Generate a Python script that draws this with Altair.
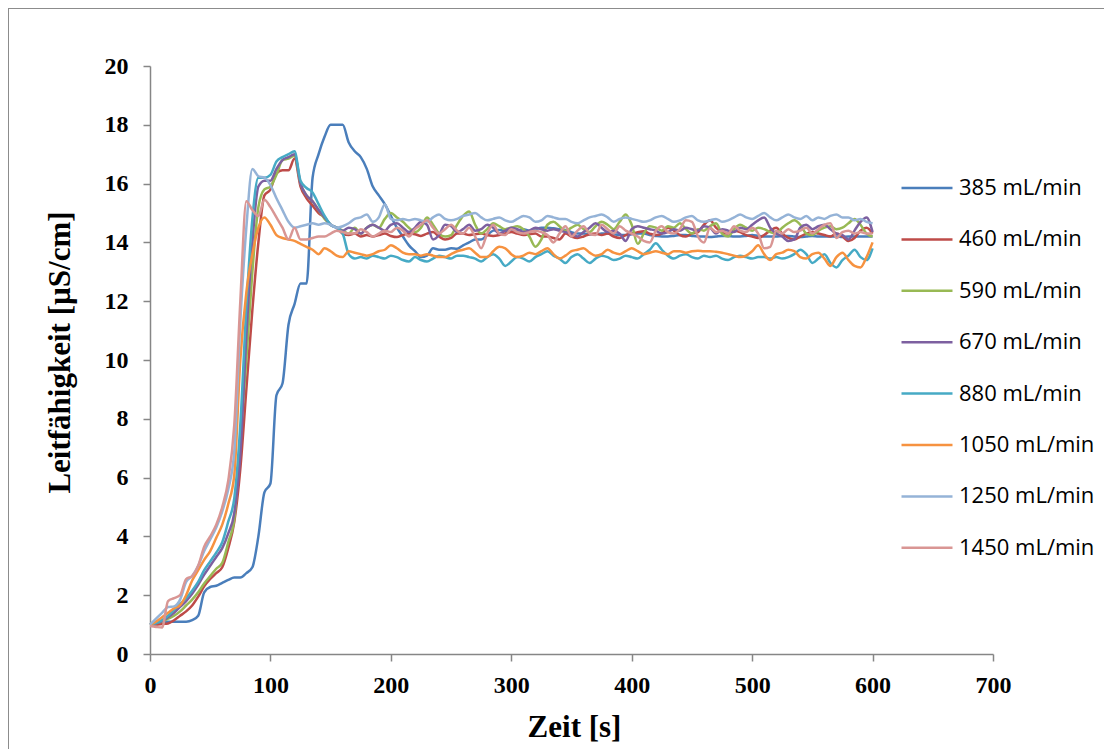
import altair as alt
import pandas as pd

# ---------------- data ----------------
series_names = ["385 mL/min", "460 mL/min", "590 mL/min", "670 mL/min",
                "880 mL/min", "1050 mL/min", "1250 mL/min", "1450 mL/min"]
series_colors = ["#4A7EBB", "#BE4B48", "#98B954", "#7D60A0",
                 "#46AAC5", "#F69240", "#95B3D7", "#D99694"]

x_ticks = [0, 100, 200, 300, 400, 500, 600, 700]
y_ticks = [0, 2, 4, 6, 8, 10, 12, 14, 16, 18, 20]

# time step 5 s, 0 ... 600 s
v385 = [1.0, 1.05, 1.08, 1.1, 1.1, 1.1, 1.1, 1.15, 1.3, 2.1,
        2.28, 2.32, 2.42, 2.52, 2.6, 2.6, 2.75, 2.95, 4.0, 5.5,
        5.8, 8.8, 9.2, 11.2, 11.9, 12.6, 12.6, 16.2, 17.0, 17.6,
        18.0, 18.0, 18.0, 17.4, 17.1, 16.9, 16.5, 15.9, 15.6, 15.3,
        14.9, 14.5, 14.2, 13.9, 13.7, 13.5, 13.55, 13.8, 13.75, 13.75,
        13.8, 13.78, 13.9, 14.0, 14.1, 14.1, 14.25, 14.4, 14.42, 14.4,
        14.38, 14.4, 14.45, 14.4, 14.45, 14.5, 14.5, 14.48, 14.45, 14.42,
        14.35, 14.3, 14.3, 14.28, 14.28, 14.3, 14.3, 14.28, 14.25, 14.25,
        14.28, 14.3, 14.3, 14.25, 14.22, 14.2, 14.2, 14.22, 14.25, 14.25,
        14.22, 14.2, 14.2, 14.18, 14.2, 14.22, 14.22, 14.2, 14.2, 14.22,
        14.25, 14.22, 14.2, 14.2, 14.2, 14.22, 14.22, 14.2, 14.18, 14.2,
        14.22, 14.2, 14.2, 14.2, 14.2, 14.18, 14.2, 14.2, 14.2, 14.2,
        14.2]

v460 = [1.0, 1.0, 1.02, 1.04, 1.15, 1.3, 1.45, 1.65, 1.95, 2.3,
        2.55, 2.75, 2.95, 3.6, 4.5, 6.3, 9.0, 11.7, 14.0, 15.6,
        15.8, 16.35, 16.45, 16.45, 16.85, 15.9, 15.5, 15.25, 15.0, 14.85,
        14.6, 14.5, 14.3, 14.25, 14.3, 14.2, 14.25, 14.2, 14.25, 14.3,
        14.22, 14.18, 14.25, 14.3, 14.28, 14.22, 14.3, 14.35, 14.2, 14.1,
        14.15, 14.3, 14.3, 14.25, 14.28, 14.3, 14.25, 14.22, 14.25, 14.3,
        14.35, 14.3, 14.25, 14.28, 14.3, 14.2, 14.2, 14.15, 14.1, 14.3,
        14.2, 14.15, 14.2, 14.28, 14.3, 14.25, 14.3, 14.2, 14.15, 14.25,
        14.3, 14.35, 14.38, 14.3, 14.25, 14.3, 14.5, 14.4, 14.25, 14.2,
        14.3, 14.35, 14.6, 14.75, 14.5, 14.35, 14.3, 14.4, 14.35, 14.25,
        14.2, 14.15, 14.25, 14.4, 14.5, 14.3, 14.15, 14.1, 14.2, 14.3,
        14.35, 14.3, 14.25, 14.2, 14.3, 14.2, 14.05, 14.15, 14.4, 14.5,
        14.3]

v590 = [1.0, 1.05, 1.1, 1.2, 1.3, 1.45, 1.65, 1.85, 2.1, 2.4,
        2.65, 2.9, 3.1, 3.8, 4.6, 7.3, 10.0, 13.0, 15.2, 15.8,
        15.9, 16.3, 16.8, 16.85, 16.95, 16.0, 15.6, 15.4, 15.1, 14.8,
        14.6, 14.5, 14.4, 14.3, 14.5, 14.3, 14.5, 14.6, 14.5, 14.8,
        15.0, 14.85, 14.7, 14.5, 14.35, 14.5, 14.85, 14.6, 14.3, 14.2,
        14.25, 14.6, 14.9, 15.05, 14.6, 14.3, 14.45, 14.65, 14.55, 14.45,
        14.5, 14.55, 14.45, 14.2, 13.85, 14.1, 14.6, 14.7, 14.55, 14.4,
        14.5, 14.6, 14.45, 14.35, 14.55, 14.7, 14.6, 14.45, 14.7, 14.95,
        14.6, 13.95, 14.3, 14.55, 14.5, 14.4, 14.55, 14.5, 14.65, 14.45,
        14.3, 14.45, 14.4, 14.55, 14.65, 14.3, 14.2, 14.45, 14.6, 14.5,
        14.4, 14.5, 14.45, 14.35, 14.3, 14.5, 14.65, 14.75, 14.6, 14.3,
        14.25, 14.4, 14.5, 14.55, 14.45, 14.5, 14.65, 14.8, 14.6, 14.3,
        14.2]

v670 = [1.0, 1.05, 1.12, 1.25, 1.4, 1.6, 1.8, 2.05, 2.35, 2.7,
        3.0, 3.3, 3.6, 4.1, 4.8, 6.8, 10.8, 14.0, 15.9, 16.1,
        16.1, 16.5, 16.8, 16.9, 17.0, 16.0, 15.6, 15.4, 15.1, 14.85,
        14.6, 14.5, 14.4, 14.5, 14.45, 14.3, 14.5, 14.6, 14.5, 14.4,
        14.6, 14.65, 14.5, 14.35, 14.5, 14.7, 14.6, 14.1, 14.25, 14.6,
        14.55, 14.35, 14.45, 14.6, 14.4, 14.45, 14.6, 14.5, 14.3, 14.4,
        14.5, 14.45, 14.35, 14.4, 14.5, 14.45, 14.4, 14.45, 14.4, 14.35,
        14.3, 14.2, 14.35, 14.5, 14.65, 14.5, 14.35, 14.4, 14.3, 14.05,
        14.45, 14.55, 14.5, 14.45, 14.4, 14.3, 14.35, 14.45, 14.4, 14.5,
        14.45, 14.4, 14.55, 14.5, 14.3, 14.45, 14.4, 14.35, 14.5, 14.45,
        14.6, 14.75, 14.85, 14.5, 14.3, 14.2, 14.05, 14.1, 14.5, 14.6,
        14.45, 14.55, 14.6, 14.45, 14.3, 14.25, 14.1, 14.4, 14.7, 14.85,
        14.35]

v880 = [1.0, 1.05, 1.15, 1.3, 1.5, 1.7, 1.9, 2.15, 2.45, 2.85,
        3.15, 3.45, 3.8, 4.5, 5.3, 7.8, 11.8, 14.8, 16.2, 16.2,
        16.3, 16.75, 16.9, 17.0, 17.1, 16.1, 15.85, 15.7, 15.3, 14.9,
        14.6, 14.5, 14.3, 13.6, 13.45, 13.5, 13.45, 13.55, 13.5, 13.45,
        13.55, 13.5, 13.4, 13.35, 13.5, 13.4, 13.35, 13.45, 13.55, 13.5,
        13.45, 13.55, 13.55, 13.5, 13.45, 13.35, 13.5, 13.6, 13.45, 13.2,
        13.35, 13.5, 13.45, 13.35, 13.5, 13.6, 13.7, 13.55, 13.45, 13.3,
        13.5, 13.6, 13.45, 13.3, 13.45, 13.55, 13.5, 13.4, 13.45, 13.55,
        13.5, 13.45, 13.6, 13.75, 13.97, 13.75, 13.55, 13.45, 13.55, 13.6,
        13.5, 13.45, 13.55, 13.5, 13.55, 13.45, 13.4, 13.5, 13.55, 13.5,
        13.45, 13.5, 13.5, 13.45, 13.5, 13.45, 13.5, 13.6, 13.75, 13.6,
        13.3, 13.45, 13.6, 13.3, 13.15, 13.4, 13.55, 13.75, 13.5, 13.4,
        13.8]

v1050 = [1.0, 1.1, 1.25, 1.4, 1.55, 1.66, 2.0, 2.5, 2.85, 3.2,
         3.5, 3.95, 4.4, 5.1, 6.1, 10.0, 12.3, 13.6, 14.5, 14.85,
         14.6, 14.25, 14.15, 14.1, 14.05, 13.95, 13.85, 13.75, 13.6, 13.8,
         13.7, 13.55, 13.5, 13.7, 13.65, 13.6, 13.55, 13.6, 13.7, 13.75,
         13.9, 13.8, 13.65, 13.6, 13.6, 13.55, 13.6, 13.55, 13.5, 13.5,
         13.6, 13.7, 13.75, 13.8, 13.65, 13.5, 13.5, 13.7, 13.85, 13.8,
         13.6, 13.5, 13.55, 13.65, 13.6, 13.7, 13.8, 13.6, 13.45, 13.55,
         13.7, 13.75, 13.8, 13.65, 13.55, 13.6, 13.75, 13.65, 13.6, 13.7,
         13.8, 13.7, 13.6, 13.65, 13.7, 13.65, 13.6, 13.7, 13.7, 13.65,
         13.7, 13.72, 13.7, 13.7, 13.68, 13.65, 13.6, 13.55, 13.5, 13.55,
         13.7, 13.9, 13.6, 13.4, 13.6, 13.65, 13.75, 13.7, 13.5, 13.45,
         13.6, 13.65, 13.45, 13.2, 13.5, 13.65, 13.4, 13.2, 13.15, 13.5,
         14.0]

v1250 = [1.0, 1.2, 1.4, 1.6, 1.62, 1.85, 2.45, 2.65, 3.0, 3.5,
         3.9, 4.3, 4.85, 5.6, 6.9, 11.3, 14.5, 16.5, 16.25, 16.2,
         15.95, 15.5, 15.1, 14.7, 14.5, 14.55, 14.6, 14.65, 14.6, 14.65,
         14.6, 14.5, 14.55, 14.65, 14.8, 14.85, 14.95, 14.7, 14.85, 15.3,
         14.8, 14.75, 14.8, 14.75, 14.8, 14.75, 14.7, 14.85, 14.95, 14.8,
         14.75, 14.8, 14.9, 14.95, 15.0, 14.85, 14.75, 14.8, 14.85, 14.75,
         14.7, 14.8, 14.9, 14.85, 14.7, 14.75, 14.9, 14.85, 14.8, 14.8,
         14.7, 14.65, 14.75, 14.85, 14.9, 14.95, 14.85, 14.7, 14.8, 14.85,
         14.8, 14.75, 14.7, 14.75, 14.85, 14.9, 14.8, 14.7, 14.75, 14.85,
         14.9, 14.75, 14.7, 14.75, 14.8, 14.7, 14.75, 14.85, 14.95, 14.85,
         14.8, 14.9, 15.0, 14.85, 14.75, 14.85, 14.95, 14.85, 14.8, 14.9,
         14.75, 14.85, 14.8, 14.9, 14.95, 14.85, 14.85, 14.75, 14.8, 14.7,
         14.65]

v1450 = [0.95, 0.92, 0.9, 1.8, 1.9, 2.0, 2.55, 2.65, 3.0, 3.65,
         4.0, 4.4, 5.0, 5.9, 7.8, 12.0, 15.4, 15.1, 14.9, 15.45,
         15.2, 14.85, 14.5, 14.1, 14.5, 14.1, 14.1, 14.15, 14.2, 14.2,
         14.3, 14.4, 14.35, 14.3, 14.3, 14.45, 14.35, 14.2, 14.3, 14.4,
         14.35, 14.5, 14.4, 14.2, 14.45, 14.6, 14.75, 14.5, 14.3, 14.45,
         14.6, 14.4, 14.3, 14.5, 14.2, 13.8, 14.3, 14.6, 14.3, 14.25,
         14.45, 14.35, 14.3, 14.35, 14.4, 14.35, 14.25, 14.0, 14.3, 14.55,
         14.2, 14.4, 14.55, 14.3, 14.25, 14.6, 14.45, 14.3, 14.55, 14.4,
         14.3, 14.2, 14.05, 14.0, 14.4, 14.55, 14.35, 14.3, 14.45, 14.75,
         14.7, 14.2, 14.0, 14.5, 14.35, 14.4, 14.3, 14.55, 14.4, 14.35,
         14.5, 14.3, 13.8, 13.85, 14.4, 14.3, 14.45, 14.35, 14.4, 14.5,
         14.3, 14.45, 14.6, 14.65, 14.15, 14.35, 14.4, 14.3, 14.35, 14.3,
         14.3]

all_values = [v385, v460, v590, v670, v880, v1050, v1250, v1450]

rows = []
for name, vals in zip(series_names, all_values):
    for i, v in enumerate(vals):
        rows.append({"Zeit": i * 5, "Wert": v, "Serie": name})
df = pd.DataFrame(rows)

# ---------------- layout ----------------
W, H = 843, 588
PAD = {"left": 142, "top": 58, "right": 111, "bottom": 100}
frame_color = "#8C8C8C"
axis_color = "#868686"

lines = alt.Chart(df).mark_line(strokeWidth=2.5, interpolate="monotone").encode(
    x=alt.X("Zeit:Q",
            scale=alt.Scale(domain=[0, 700], nice=False, zero=False),
            axis=alt.Axis(values=x_ticks, title="Zeit [s]", format="d",
                          labelFlush=False, labelPadding=12, tickSize=7,
                          titleX=424, titleY=82, titleAlign="center",
                          titleBaseline="alphabetic")),
    y=alt.Y("Wert:Q",
            scale=alt.Scale(domain=[0, 20], nice=False),
            axis=alt.Axis(values=y_ticks, title="Leitfähigkeit [µS/cm]", format="d",
                          labelPadding=15, tickSize=7,
                          titleAngle=270, titleX=-81, titleY=286,
                          titleAlign="center", titleBaseline="alphabetic")),
    color=alt.Color("Serie:N",
                    scale=alt.Scale(domain=series_names, range=series_colors),
                    sort=series_names,
                    legend=alt.Legend(title=None, orient="none", legendX=750, legendY=95,
                                      symbolType="stroke", symbolSize=2600,
                                      symbolStrokeWidth=2.5, labelFont="Open Sans",
                                      labelFontSize=22, labelColor="#000000",
                                      labelOffset=5, labelLimit=400,
                                      rowPadding=13.4, padding=0)),
    order=alt.Order("Zeit:Q"),
)

frame_data = pd.DataFrame({"k": [0]})
frame_top = alt.Chart(frame_data).mark_rule(color=frame_color, strokeWidth=1).encode(
    x=alt.value(-PAD["left"]), x2=alt.value(W + PAD["right"]),
    y=alt.value(-PAD["top"] + 0.5))
frame_left = alt.Chart(frame_data).mark_rule(color=frame_color, strokeWidth=1).encode(
    x=alt.value(-PAD["left"] + 0.5), y=alt.value(-PAD["top"]),
    y2=alt.value(H + PAD["bottom"]))

chart = alt.layer(frame_top, frame_left, lines).properties(
    width=W, height=H,
    padding=PAD,
    autosize=alt.AutoSizeParams(type="none"),
    background="#FFFFFF",
).configure_view(stroke=None).configure_axis(
    grid=False,
    domainColor=axis_color, domainWidth=1.5,
    tickColor=axis_color, tickWidth=1.5,
    labelFont="Liberation Serif", labelFontWeight="bold", labelFontSize=24,
    labelColor="#000000",
    titleFont="Liberation Serif", titleFontWeight="bold", titleFontSize=31,
    titleColor="#000000",
)

chart.save("out.html", embed_options={"renderer": "svg", "actions": False})
